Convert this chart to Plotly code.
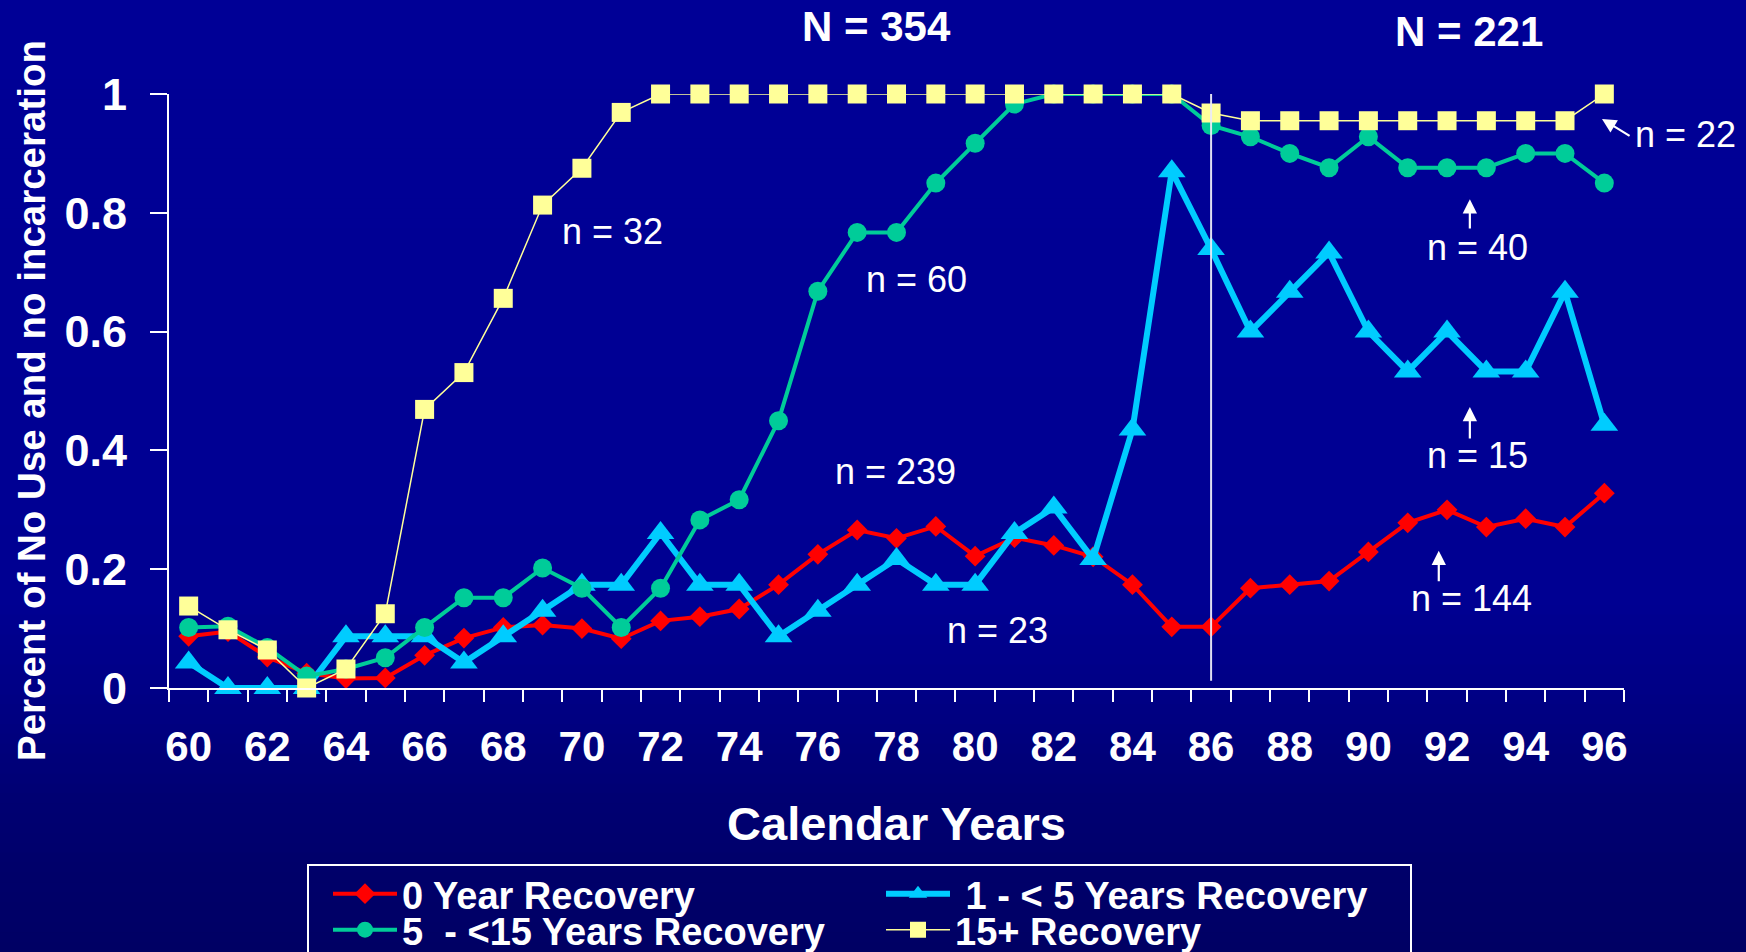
import plotly.graph_objects as go

# ---------------- data ----------------
years = list(range(60, 97))
year_ticks = list(range(60, 97, 2))
y_ticks = [0, 0.2, 0.4, 0.6, 0.8, 1]

zero_year = [0.087, 0.095, 0.052, 0.025, 0.016, 0.017, 0.055, 0.084, 0.102, 0.106,
             0.100, 0.083, 0.113, 0.120, 0.133, 0.174, 0.225, 0.266, 0.252, 0.272,
             0.222, 0.253, 0.240, 0.221, 0.174, 0.103, 0.103, 0.168, 0.174, 0.180,
             0.229, 0.278, 0.300, 0.271, 0.285, 0.271, 0.328]
one_to_five = [0.043, 0.0, 0.0, 0.0, 0.087, 0.087, 0.087, 0.043, 0.087, 0.130,
               0.174, 0.174, 0.261, 0.174, 0.174, 0.087, 0.130, 0.174, 0.217, 0.174,
               0.174, 0.261, 0.304, 0.217, 0.435, 0.870, 0.739, 0.600, 0.667, 0.733,
               0.600, 0.533, 0.600, 0.533, 0.533, 0.667, 0.443]
five_to_fifteen = [0.102, 0.104, 0.068, 0.020, 0.032, 0.051, 0.102, 0.152, 0.152, 0.202,
                   0.168, 0.102, 0.168, 0.283, 0.317, 0.450, 0.668, 0.767, 0.767, 0.850,
                   0.917, 0.983, 1.0, 1.0, 1.0, 1.0, 0.947, 0.928, 0.900, 0.876,
                   0.928, 0.876, 0.876, 0.876, 0.900, 0.900, 0.850]
fifteen_plus = [0.138, 0.098, 0.064, 0.0, 0.032, 0.125, 0.469, 0.531, 0.656, 0.813,
                0.875, 0.969, 1.0, 1.0, 1.0, 1.0, 1.0, 1.0, 1.0, 1.0,
                1.0, 1.0, 1.0, 1.0, 1.0, 1.0, 0.968, 0.955, 0.955, 0.955,
                0.955, 0.955, 0.955, 0.955, 0.955, 0.955, 1.0]

series_names = ["0 Year Recovery", "\u00a01 - &lt; 5 Years Recovery",
                "5\u00a0 - &lt;15 Years Recovery", "15+ Recovery"]
y_title = "Percent of No Use and no incarceration"

# labels in paper coordinates (outside the data range): (text, x, y)
big_labels = [("N = 354", 0.4864, 1.1128), ("N = 221", 0.8935, 1.106)]
outer_labels = [("n = 22", 1.042, 0.931)]
# labels in data coordinates: (text, year, value)
n_labels = [("n = 32", 70.79, 0.768), ("n = 60", 78.51, 0.687),
            ("n = 239", 77.97, 0.365), ("n = 23", 80.56, 0.096),
            ("n = 40", 92.78, 0.741), ("n = 15", 92.78, 0.392),
            ("n = 144", 92.63, 0.1515)]
# arrows: (head x, head y, tail x, tail y)
arrows = [(92.58, 0.823, 92.58, 0.771), (92.58, 0.473, 92.58, 0.4175),
          (91.79, 0.231, 91.79, 0.177), (95.94, 0.958, 96.68, 0.928)]
divider_year = 86

# ---------------- style ----------------
W, H = 1746, 952
ML, MR, MT, MB = 169, 122, 94, 264
PW, PH = W - ML - MR, H - MT - MB
FONT = "Liberation Sans, Arial, sans-serif"


def px_to_paper(px, py):
    return (px - ML) / PW, (H - MB - py) / PH


fig = go.Figure()

styles = [
    dict(color="#FF0000", width=4, symbol="diamond", size=16, legend="legend"),
    dict(color="#00CCFF", width=6, symbol="triangle-up", size=24, legend="legend2"),
    dict(color="#00CC99", width=4, symbol="circle", size=19, legend="legend3"),
    dict(color="#FFFF99", width=1.5, symbol="square", size=19, legend="legend4"),
]
for vals, name, st in zip([zero_year, one_to_five, five_to_fifteen, fifteen_plus],
                          series_names, styles):
    fig.add_trace(go.Scatter(
        x=years, y=vals, name=name, mode="lines+markers",
        line=dict(color=st["color"], width=st["width"]),
        marker=dict(color=st["color"], symbol=st["symbol"], size=st["size"],
                    line=dict(width=0)),
        cliponaxis=False, legend=st["legend"]))

# background gradient
stops = [(0, 150), (600, 146), (700, 132), (800, 114), (870, 106), (952, 100)]
shapes = []
nstrip = 96
for i in range(nstrip):
    y0 = H * i / nstrip
    y1 = H * (i + 1) / nstrip
    ym = (y0 + y1) / 2
    for (a, ca), (b, cb) in zip(stops[:-1], stops[1:]):
        if a <= ym <= b:
            c = ca + (cb - ca) * (ym - a) / (b - a)
            break
    xa, ya = px_to_paper(-2, y0)
    xb, yb = px_to_paper(W + 2, y1 + 1)
    shapes.append(dict(type="rect", xref="paper", yref="paper", x0=xa, x1=xb,
                       y0=yb, y1=ya, line=dict(width=0),
                       fillcolor=f"rgb(0,0,{int(round(c))})", layer="below"))

# divider line
shapes.append(dict(type="line", xref="x", yref="y", x0=divider_year, x1=divider_year,
                   y0=0.012, y1=1.01, line=dict(color="rgba(235,235,245,0.95)", width=2),
                   layer="above"))
# legend box
lx0, ly0 = px_to_paper(308, 865)
lx1, ly1 = px_to_paper(1411, 965)
shapes.append(dict(type="rect", xref="paper", yref="paper", x0=lx0, x1=lx1,
                   y0=ly1, y1=ly0, line=dict(color="white", width=2),
                   fillcolor="rgba(0,0,0,0)"))

annotations = []
for t, x, y in big_labels:
    annotations.append(dict(text=t, x=x, y=y, xref="paper", yref="paper", showarrow=False,
                            xanchor="center", yanchor="middle",
                            font=dict(family=FONT, size=42, color="white", weight="bold")))
for t, x, y in outer_labels:
    annotations.append(dict(text=t, x=x, y=y, xref="paper", yref="paper", showarrow=False,
                            xanchor="center", yanchor="middle",
                            font=dict(family=FONT, size=36, color="white")))
for t, x, y in n_labels:
    annotations.append(dict(text=t, x=x, y=y, xref="x", yref="y", showarrow=False,
                            xanchor="center", yanchor="middle",
                            font=dict(family=FONT, size=36, color="white")))
for hx, hy, tx, ty in arrows:
    annotations.append(dict(text="", x=hx, y=hy, ax=tx, ay=ty, xref="x", yref="y",
                            axref="x", ayref="y", showarrow=True, arrowhead=2,
                            arrowsize=1.3, arrowwidth=2.2, arrowcolor="white"))
# y axis title (rotated)
tx_, ty_ = px_to_paper(31, 401)
annotations.append(dict(text=y_title, x=tx_, y=ty_, xref="paper", yref="paper",
                        showarrow=False, textangle=-90, xanchor="center", yanchor="middle",
                        font=dict(family=FONT, size=38.5, color="white", weight="bold")))

leg_font = dict(family=FONT, size=38, color="white", weight="bold")
leg_common = dict(orientation="h", xref="container", yref="container",
                  xanchor="left", yanchor="middle", font=leg_font,
                  bgcolor="rgba(0,0,0,0)", borderwidth=0, itemwidth=64)
col_x = [328, 881]
row_y = [894, 930]

fig.update_layout(
    width=W, height=H,
    margin=dict(l=ML, r=MR, t=MT, b=MB, autoexpand=False),
    paper_bgcolor="rgb(0,0,120)", plot_bgcolor="rgba(0,0,0,0)",
    showlegend=True,
    legend=dict(leg_common, x=col_x[0] / W, y=1 - row_y[0] / H),
    legend2=dict(leg_common, x=col_x[1] / W, y=1 - row_y[0] / H),
    legend3=dict(leg_common, x=col_x[0] / W, y=1 - row_y[1] / H),
    legend4=dict(leg_common, x=col_x[1] / W, y=1 - row_y[1] / H),
    xaxis=dict(range=[59.5, 96.5], tickmode="array", tickvals=year_ticks,
               ticks="", showgrid=False, zeroline=False,
               showline=True, linecolor="white", linewidth=2,
               tickfont=dict(family=FONT, size=42, color="white", weight="bold"),
               ticklabelstandoff=21,
               minor=dict(tick0=59.5, dtick=1, ticks="outside", ticklen=12,
                          tickwidth=2, tickcolor="white", showgrid=False),
               title=dict(text="Calendar Years", standoff=38,
                          font=dict(family=FONT, size=47, color="white", weight="bold"))),
    yaxis=dict(range=[0, 1], tickmode="array", tickvals=y_ticks,
               ticks="outside", ticklen=17, tickwidth=2, tickcolor="white",
               showgrid=False, zeroline=False,
               showline=True, linecolor="white", linewidth=2,
               tickfont=dict(family=FONT, size=45, color="white", weight="bold"),
               ticklabelstandoff=14),
    shapes=shapes, annotations=annotations,
)

fig.write_html("out.html", config={"displayModeBar": False},
               post_script="document.body.style.margin='0px';"
                           "document.body.style.overflow='hidden';")
